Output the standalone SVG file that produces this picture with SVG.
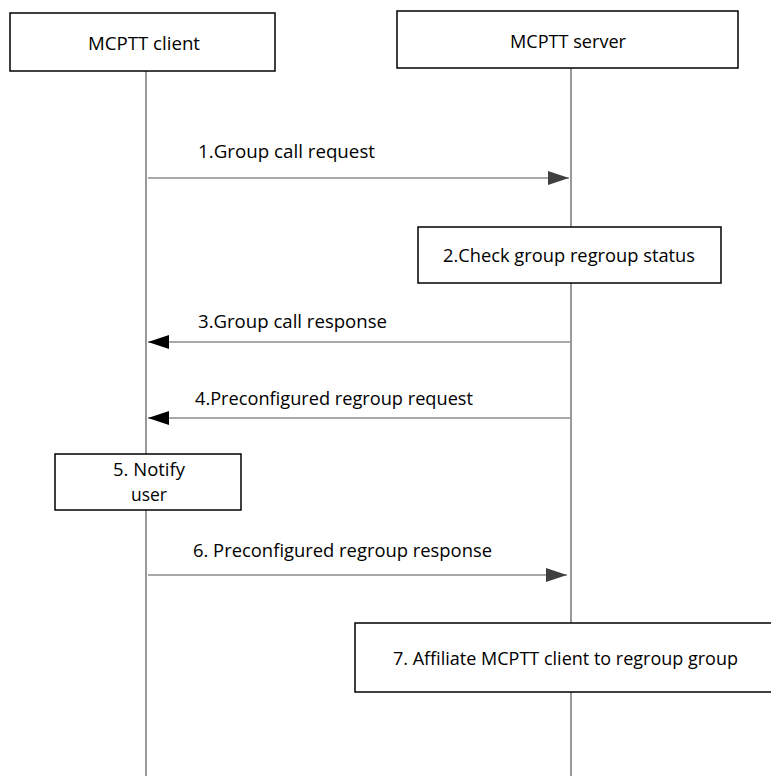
<svg xmlns="http://www.w3.org/2000/svg" width="771" height="776" viewBox="0 0 771 776">
<style>
text{font-family:"Open Sans","Liberation Sans",sans-serif;font-size:19px;fill:#000}
.box{fill:#fff;stroke:#000;stroke-width:1.5}
.life{stroke:#555;stroke-width:1.2;fill:none}
.msg{stroke:#555;stroke-width:1.2;fill:none}
</style>
<defs>
<marker id="ah" markerWidth="22" markerHeight="14" refX="21" refY="7" orient="auto" markerUnits="userSpaceOnUse">
<path d="M0,0 L21,7 L0,14 Z" fill="#404040"/>
</marker>
<marker id="ahb" markerWidth="22" markerHeight="14" refX="21" refY="7" orient="auto" markerUnits="userSpaceOnUse">
<path d="M0,0 L21,7 L0,14 Z" fill="#000"/>
</marker>
</defs>
<g id="lifelines">
<line class="life" x1="146" y1="71" x2="146" y2="776"/>
<line class="life" x1="571" y1="68" x2="571" y2="776"/>
</g>
<g id="client"><rect class="box" x="10" y="13" width="265" height="58"/><text x="88" y="50" textLength="112" lengthAdjust="spacingAndGlyphs">MCPTT client</text></g>
<g id="server"><rect class="box" x="397" y="11" width="341" height="57"/><text x="510" y="48" textLength="116" lengthAdjust="spacingAndGlyphs">MCPTT server</text></g>
<g id="connectors">
<line class="msg" x1="148" y1="178" x2="569" y2="178" marker-end="url(#ah)"/>
<text x="198" y="158" textLength="177" lengthAdjust="spacingAndGlyphs">1.Group call request</text>
<line class="msg" x1="570" y1="342" x2="148" y2="342" marker-end="url(#ahb)"/>
<text x="198" y="328" textLength="189" lengthAdjust="spacingAndGlyphs">3.Group call response</text>
<line class="msg" x1="570" y1="418" x2="148" y2="418" marker-end="url(#ahb)"/>
<text x="195" y="405" textLength="278" lengthAdjust="spacingAndGlyphs">4.Preconfigured regroup request</text>
<line class="msg" x1="148" y1="575" x2="567" y2="575" marker-end="url(#ah)"/>
<text x="193" y="557" textLength="299" lengthAdjust="spacingAndGlyphs">6. Preconfigured regroup response</text>
</g>
<g id="step2"><rect class="box" x="418" y="227" width="303" height="56"/><text x="443" y="262" textLength="252" lengthAdjust="spacingAndGlyphs">2.Check group regroup status</text></g>
<g id="step5"><rect class="box" x="55" y="454" width="186" height="56"/><text x="113" y="476" textLength="72" lengthAdjust="spacingAndGlyphs">5. Notify</text><text x="131" y="501" textLength="36" lengthAdjust="spacingAndGlyphs">user</text></g>
<g id="step7"><rect class="box" x="355" y="623" width="430" height="69"/><text x="393" y="665" textLength="345" lengthAdjust="spacingAndGlyphs">7. Affiliate MCPTT client to regroup group</text></g>
</svg>
